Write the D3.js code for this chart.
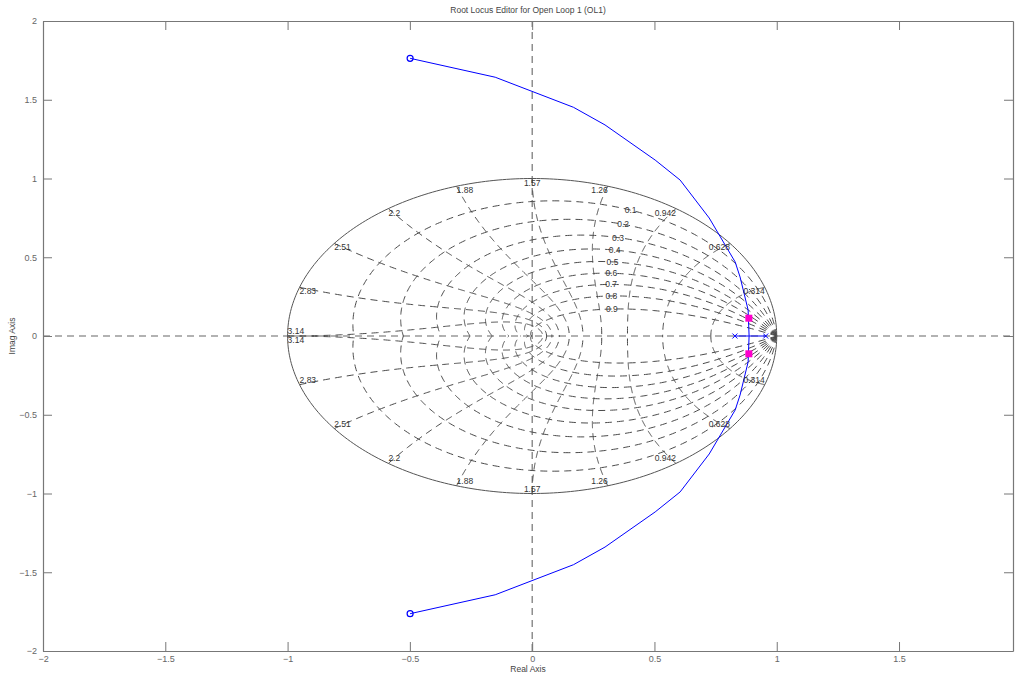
<!DOCTYPE html>
<html>
<head>
<meta charset="utf-8">
<script src="https://cdn.jsdelivr.net/npm/d3@7"></script>
<style>
  body { margin: 0; background: #fff; }
  svg { display: block; font-family: "Liberation Sans", Arial, sans-serif; }
</style>
</head>
<body>
<svg id="chart" width="1015" height="676"></svg>
<script>
// ---- data ----
const xLimits = [-2, 1.966];
const yLimits = [-2, 2];
const xTicks = [-2, -1.5, -1, -0.5, 0, 0.5, 1, 1.5];
const yTicks = [-2, -1.5, -1, -0.5, 0, 0.5, 1, 1.5, 2];
const zetaValues = [0.1, 0.2, 0.3, 0.4, 0.5, 0.6, 0.7, 0.8, 0.9];
const zetaLabels = ["0.1", "0.2", "0.3", "0.4", "0.5", "0.6", "0.7", "0.8", "0.9"];
const zetaLabelWn = 1.11;
const wnValues = [0.1, 0.2, 0.3, 0.4, 0.5, 0.6, 0.7, 0.8, 0.9, 1.0].map(k => k * Math.PI);
const wnLabels = ["0.314", "0.628", "0.942", "1.26", "1.57", "1.88", "2.2", "2.51", "2.83", "3.14"];
const olPoles = [0.829, 0.955];
const olZeroRe = [-0.499];
const olZeroIm = [1.763];
const breakaway = 0.887;
const locusRe = [0.887, 0.883, 0.850, 0.830, 0.724, 0.605, 0.503, 0.298, 0.169, -0.151, -0.499];
const locusIm = [0.000, 0.165, 0.375, 0.470, 0.749, 0.990, 1.117, 1.340, 1.452, 1.643, 1.763];
const clPoleRe = [0.886];
const clPoleIm = [0.113];

// ---- layout ----
const svg = d3.select("#chart");
const x = d3.scaleLinear().domain(xLimits).range([43, 1013]);
const y = d3.scaleLinear().domain(yLimits).range([651, 21]);
const line = d3.line().x(d => x(d[0])).y(d => y(d[1]));

svg.append("defs").append("clipPath").attr("id", "clip")
  .append("rect").attr("x", 43).attr("y", 21).attr("width", 970).attr("height", 630);

const plot = svg.append("g").attr("clip-path", "url(#clip)");

// axis lines through origin
plot.append("line")
  .attr("x1", x(xLimits[0])).attr("x2", x(xLimits[1]))
  .attr("y1", y(0)).attr("y2", y(0))
  .attr("stroke", "#999").attr("stroke-width", 1.3).attr("stroke-dasharray", "7,5");
plot.append("line")
  .attr("x1", x(0)).attr("x2", x(0))
  .attr("y1", y(yLimits[0])).attr("y2", y(yLimits[1]))
  .attr("stroke", "#555").attr("stroke-width", 1).attr("stroke-dasharray", "7,5");

const gridColor = "#4a4a4a";
const dash = "7,5";
const N = 240;
// constant damping curves
zetaValues.forEach(z => {
  const s = Math.sqrt(1 - z * z);
  const wMax = Math.PI / s;
  [1, -1].forEach(sign => {
    const pts = d3.range(N + 1).map(i => {
      const w = wMax * i / N;
      const r = Math.exp(-z * w);
      return [r * Math.cos(w * s), sign * r * Math.sin(w * s)];
    });
    plot.append("path").attr("d", line(pts)).attr("fill", "none")
      .attr("stroke", gridColor).attr("stroke-width", 1).attr("stroke-dasharray", dash);
  });
});
// constant natural frequency curves
wnValues.forEach(w => {
  [1, -1].forEach(sign => {
    const pts = d3.range(N + 1).map(i => {
      const z = i / N;
      const s = Math.sqrt(1 - z * z);
      const r = Math.exp(-z * w);
      return [r * Math.cos(w * s), sign * r * Math.sin(w * s)];
    });
    plot.append("path").attr("d", line(pts)).attr("fill", "none")
      .attr("stroke", gridColor).attr("stroke-width", 1).attr("stroke-dasharray", dash);
  });
});
// unit circle
const circ = d3.range(361).map(i => [Math.cos(i * Math.PI / 180), Math.sin(i * Math.PI / 180)]);
plot.append("path").attr("d", line(circ)).attr("fill", "none")
  .attr("stroke", "#555").attr("stroke-width", 1);

// grid labels
const lab = svg.append("g").attr("font-size", 8.5).attr("fill", "#333");
zetaValues.forEach((z, i) => {
  const s = Math.sqrt(1 - z * z);
  const r = Math.exp(-z * zetaLabelWn);
  lab.append("text")
    .attr("x", x(r * Math.cos(zetaLabelWn * s)))
    .attr("y", y(r * Math.sin(zetaLabelWn * s)))
    .attr("text-anchor", "middle").attr("dominant-baseline", "central")
    .text(zetaLabels[i]);
});
wnValues.forEach((w, i) => {
  const c = Math.cos(w), sn = Math.sin(w);
  const anchor = Math.abs(c) < 0.01 ? "middle" : (c > 0 ? "end" : "start");
  lab.append("text").attr("x", x(c)).attr("y", y(sn) + 7)
    .attr("text-anchor", anchor).text(wnLabels[i]);
  lab.append("text").attr("x", x(c)).attr("y", y(-sn) - 2)
    .attr("text-anchor", anchor).text(wnLabels[i]);
});

// root locus
const blue = "#0000ff";
const upper = locusRe.map((r, i) => [r, locusIm[i]]);
const lower = locusRe.map((r, i) => [r, -locusIm[i]]);
plot.append("path").attr("d", line([[olPoles[0], 0], [breakaway, 0]])).attr("fill", "none").attr("stroke", blue).attr("stroke-width", 1);
plot.append("path").attr("d", line([[olPoles[1], 0], [breakaway, 0]])).attr("fill", "none").attr("stroke", blue).attr("stroke-width", 1);
plot.append("path").attr("d", line(upper)).attr("fill", "none").attr("stroke", blue).attr("stroke-width", 1);
plot.append("path").attr("d", line(lower)).attr("fill", "none").attr("stroke", blue).attr("stroke-width", 1);

// open-loop poles (x)
olPoles.forEach(p => {
  const cx = x(p), cy = y(0), h = 2.5;
  plot.append("path").attr("d", `M${cx - h},${cy - h}L${cx + h},${cy + h}M${cx - h},${cy + h}L${cx + h},${cy - h}`)
    .attr("stroke", blue).attr("stroke-width", 1);
});
// open-loop zeros (o)
olZeroRe.forEach((r, i) => {
  [1, -1].forEach(sign => {
    plot.append("circle").attr("cx", x(r)).attr("cy", y(sign * olZeroIm[i])).attr("r", 3)
      .attr("fill", "none").attr("stroke", blue).attr("stroke-width", 1.2);
  });
});
// closed-loop poles
clPoleRe.forEach((r, i) => {
  [1, -1].forEach(sign => {
    plot.append("rect").attr("x", x(r) - 3.5).attr("y", y(sign * clPoleIm[i]) - 3.5)
      .attr("width", 7).attr("height", 7).attr("fill", "#ff00cc");
  });
});

// axes
const axisColor = "#777";
const gx = svg.append("g").attr("transform", `translate(0,${y(yLimits[0])})`)
  .call(d3.axisBottom(x).tickValues(xTicks).tickSizeInner(-9).tickSizeOuter(0).tickPadding(5).tickFormat(d3.format("")));
const gxt = svg.append("g").attr("transform", `translate(0,${y(yLimits[1])})`)
  .call(d3.axisTop(x).tickValues(xTicks).tickSizeInner(-9).tickSizeOuter(0).tickFormat(""));
const gy = svg.append("g").attr("transform", `translate(${x(xLimits[0])},0)`)
  .call(d3.axisLeft(y).tickValues(yTicks).tickSizeInner(-9).tickSizeOuter(0).tickPadding(6).tickFormat(d3.format("")));
const gyr = svg.append("g").attr("transform", `translate(${x(xLimits[1])},0)`)
  .call(d3.axisRight(y).tickValues(yTicks).tickSizeInner(-9).tickSizeOuter(0).tickFormat(""));
[gx, gxt, gy, gyr].forEach(g => {
  g.select(".domain").attr("stroke", axisColor).attr("stroke-width", 1.2);
  g.selectAll(".tick line").attr("stroke", axisColor).attr("stroke-width", 1);
  g.selectAll(".tick text").attr("fill", "#666").attr("font-size", 9)
    .attr("font-family", "'Liberation Sans', Arial, sans-serif");
});

// titles
svg.append("text").attr("x", 528).attr("y", 13).attr("text-anchor", "middle")
  .attr("font-size", 8.5).attr("fill", "#444").text("Root Locus Editor for Open Loop 1 (OL1)");
svg.append("text").attr("x", 528).attr("y", 672).attr("text-anchor", "middle")
  .attr("font-size", 8.5).attr("fill", "#444").text("Real Axis");
svg.append("text").attr("transform", "translate(15,336) rotate(-90)").attr("text-anchor", "middle")
  .attr("font-size", 8.5).attr("fill", "#444").text("Imag Axis");
</script>
</body>
</html>
